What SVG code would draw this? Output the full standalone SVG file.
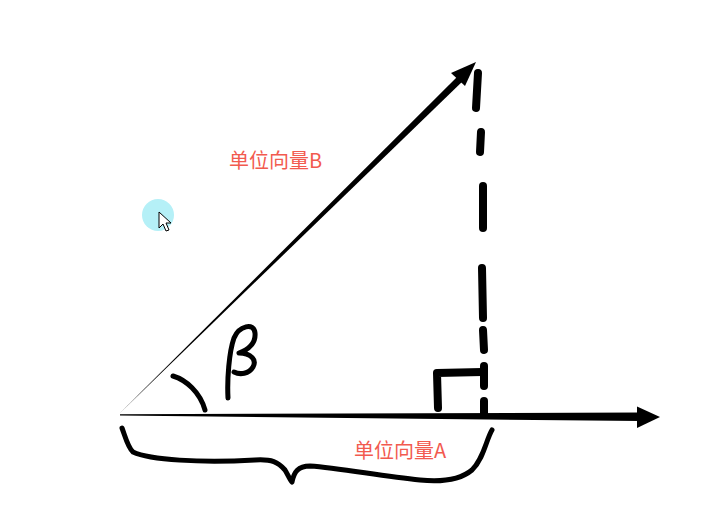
<svg xmlns="http://www.w3.org/2000/svg" width="718" height="524" viewBox="0 0 718 524">
<style>
.ink{fill:none;stroke:#000;stroke-linecap:round;stroke-linejoin:round}
.lbl{font-family:"Noto Sans CJK SC","Liberation Sans",sans-serif;font-size:20px;fill:#f25a4f}
</style>
<rect width="718" height="524" fill="#fff"/>
<g id="connectors">
<g id="vectorA">
<polygon points="120,414.2 640,412.5 640,421 120,415.6" fill="#000"/>
<polygon points="660,417 637,406.5 637,428" fill="#000"/>
</g>
<g id="vectorB">
<polygon points="119.5,413.5 120.5,412.5 460,74 465,79" fill="#000"/>
<polygon points="476,62 451,73 465,86" fill="#000"/>
</g>
<g id="dashed" class="ink" stroke-width="8">
<path d="M478,73 L476,108"/>
<path d="M481,132 L480,152"/>
<path d="M483,186 L483,228"/>
<path d="M482,268 L483,318"/>
<path d="M483,330 L484,350"/>
<path d="M484,366 L484,386"/>
<path d="M484,401 L484,415"/>
</g>
</g>
<g id="rightangle" class="ink" stroke-width="8">
<path d="M438,408 L437,373 L482,372"/>
</g>
<g id="angle" class="ink" stroke-width="5">
<path d="M173,376 C186,380 200,392 205,410"/>
</g>
<g id="beta" class="ink" stroke-width="5">
<path d="M228,398 C227,380 229,352 234,338 C239,326 254,322 255,333 C256,344 247,350 239,353 C251,353 257,360 253,367 C249,374 240,375 234,372"/>
</g>
<g id="brace" class="ink" stroke-width="5">
<path d="M122,428 C125,436 128,448 133,452 C150,460 200,463 255,460 C272,459 278,462 285,470 C288,475 290,480 292,482 C294,472 298,466 310,466 C340,468 380,476 420,480 C440,482 460,480 472,470 C484,458 486,440 492,430"/>
</g>
<g id="labelB"><text class="lbl" x="229" y="168">单位向量B</text></g>
<g id="labelA"><text class="lbl" x="354" y="458">单位向量A</text></g>
<g id="cursor">
<circle cx="158" cy="215" r="16" fill="#b5f0f7"/>
<path d="M159,212 L159,228 L163,224 L166,231 L169,230 L166,223 L171,223 Z" fill="#fff" stroke="#000" stroke-width="1"/>
</g>
</svg>
